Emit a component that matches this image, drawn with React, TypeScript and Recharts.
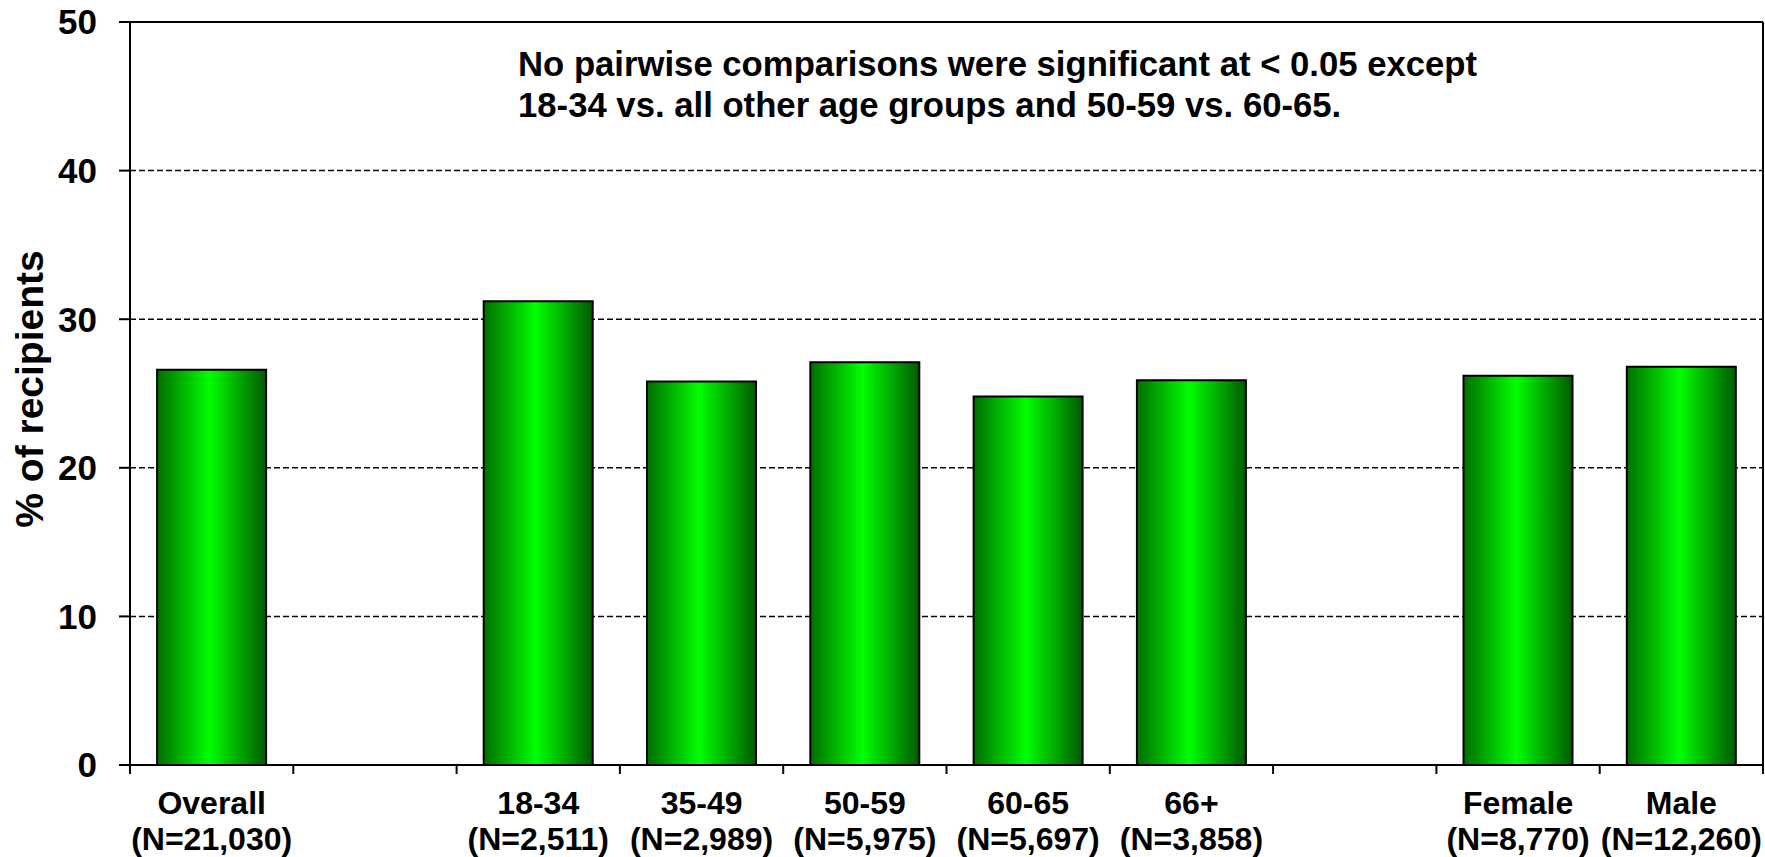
import React from 'react';
import { BarChart, Bar, XAxis, YAxis, CartesianGrid, ReferenceLine } from 'recharts';

const groups = ['Overall', '', '18-34', '35-49', '50-59', '60-65', '66+', '', 'Female', 'Male'];
const sampleSizes = ['(N=21,030)', '', '(N=2,511)', '(N=2,989)', '(N=5,975)', '(N=5,697)', '(N=3,858)', '', '(N=8,770)', '(N=12,260)'];
const pctRecipients: (number | null)[] = [26.6, null, 31.2, 25.8, 27.1, 24.8, 25.9, null, 26.2, 26.8];
const yTicks = [0, 10, 20, 30, 40, 50];
const noteLines = [
  'No pairwise comparisons were significant at < 0.05 except',
  '18-34 vs. all other age groups and 50-59 vs. 60-65.',
];

const W = 1765;
const H = 857;
const Y_AXIS_W = 130;
const RIGHT_W = 2;
const FONT = '"Liberation Sans", Arial, sans-serif';

const data = groups.map((g, i) => ({ key: `c${i}`, value: pctRecipients[i] }));

// category ticks sit on the band boundaries, labels under the band centre
const GroupTick = (props: any) => {
  const { x, y, payload, index } = props;
  const fallback = (W - Y_AXIS_W - RIGHT_W) / groups.length / 2;
  const half = payload && payload.offset > 0 ? payload.offset : fallback;
  const i = typeof index === 'number' ? index : payload.index;
  return (
    <g>
      <line x1={x - half} x2={x - half} y1={y} y2={y + 9} stroke="#000" strokeWidth={2} />
      {i === groups.length - 1 && (
        <line x1={x + half} x2={x + half} y1={y} y2={y + 9} stroke="#000" strokeWidth={2} />
      )}
      <text x={x} y={y + 49} textAnchor="middle" fontFamily={FONT} fontWeight="bold" fontSize={32} fill="#000">
        {groups[i]}
      </text>
      <text x={x} y={y + 85} textAnchor="middle" fontFamily={FONT} fontWeight="bold" fontSize={32} fill="#000">
        {sampleSizes[i]}
      </text>
    </g>
  );
};

export default function App() {
  return (
    <div style={{ position: 'absolute', left: 0, top: 0, width: W, height: H, background: '#fff' }}>
      <BarChart
        width={W}
        height={H}
        data={data}
        margin={{ top: 22, right: 0, bottom: 0, left: 0 }}
        barCategoryGap="16.6%"
      >
        <defs>
          <linearGradient id="greenBar" x1="0" y1="0" x2="1" y2="0">
            <stop offset="0%" stopColor="#006e00" />
            <stop offset="48%" stopColor="#00ff00" />
            <stop offset="100%" stopColor="#005a00" />
          </linearGradient>
        </defs>
        <CartesianGrid vertical={false} stroke="#000" strokeDasharray="6 3" strokeWidth={1.5} />
        <XAxis
          dataKey="key"
          height={92}
          axisLine={{ stroke: '#000', strokeWidth: 2 }}
          tickLine={false}
          tickSize={0}
          tickMargin={0}
          interval={0}
          tick={<GroupTick />}
        />
        <YAxis
          width={Y_AXIS_W}
          domain={[0, 50]}
          ticks={yTicks}
          interval={0}
          axisLine={{ stroke: '#000', strokeWidth: 2 }}
          tickLine={{ stroke: '#000', strokeWidth: 2 }}
          tickSize={11}
          tickMargin={22}
          tick={{ fill: '#000', fontFamily: FONT, fontWeight: 'bold', fontSize: 35 }}
          label={{
            content: () => (
              <text
                x={43}
                y={389}
                transform="rotate(-90 43 389)"
                textAnchor="middle"
                fontFamily={FONT}
                fontWeight="bold"
                fontSize={39}
                fill="#000"
              >
                % of recipients
              </text>
            ),
          }}
        />
        <YAxis
          yAxisId="frame"
          orientation="right"
          width={RIGHT_W}
          domain={[0, 50]}
          tick={false}
          tickLine={false}
          axisLine={{ stroke: '#000', strokeWidth: 2 }}
        />
        <ReferenceLine y={50} stroke="#000" strokeWidth={2} />
        <Bar
          dataKey="value"
          fill="url(#greenBar)"
          stroke="#000"
          strokeWidth={2}
          isAnimationActive={false}
        />
      </BarChart>
      <div
        style={{
          position: 'absolute',
          left: 518,
          top: 44,
          fontFamily: FONT,
          fontWeight: 'bold',
          fontSize: 34.7,
          lineHeight: '41px',
          color: '#000',
          whiteSpace: 'pre',
        }}
      >
        {noteLines.map((l) => (
          <div key={l}>{l}</div>
        ))}
      </div>
    </div>
  );
}
